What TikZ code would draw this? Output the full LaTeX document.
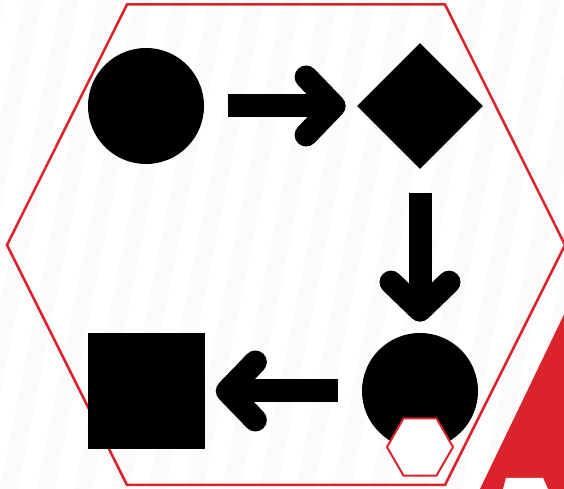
\documentclass[tikz,border=0pt]{standalone}
\usepackage{tikz}
\usetikzlibrary{arrows.meta,shapes.geometric}
\definecolor{hexred}{RGB}{218,35,42}
\definecolor{stripegray}{RGB}{251,251,251}

\begin{document}
\begin{tikzpicture}[>={Straight Barb[round,length=5.6mm,width=11.6mm]},
	solid/.style={fill=black, inner sep=0pt},
	blob/.style={solid, circle, minimum size=2.32cm},
	flow/.style={->, line width=4.6mm, shorten <=4.7mm, shorten >=2.2mm},
	hexframe/.style={draw=hexred, regular polygon, regular polygon sides=6, inner sep=0pt, outer sep=0pt}]
	\useasboundingbox (0,0) rectangle (11.28,9.78);
	\clip (0,0) rectangle (11.28,9.78);
	\fill[white] (0,0) rectangle (11.28,9.78);
	\foreach \k in {-4,...,16}
		\fill[stripegray] ({\k*0.74},0) -- ++(0.36,0) -- ++(1.96,9.78) -- ++(-0.36,0) -- cycle;
	\draw[hexred, line width=0.05cm] (0.14,4.88) -- (2.54,9.69) -- (8.90,9.69) -- (11.30,4.88) -- (8.90,0.08) -- (2.54,0.08) -- cycle;
	\fill[hexred] (9.60,0) -- (11.40,3.74) -- (11.40,0) -- cycle;
	\fill[white] (10.06,0) -- (10.12,0.22) -- (10.86,0.22) -- (10.96,0) -- cycle;
	\node[blob] (start) at (2.92,7.66) {};
	\node[solid, diamond, minimum width=2.52cm, minimum height=2.52cm] (decide) at (8.40,7.66) {};
	\node[blob] (merge) at (8.40,1.96) {};
	\node[solid, rectangle, minimum size=2.32cm] (stop) at (2.93,1.96) {};
	\draw[flow] (start) -- (decide);
	\draw[flow] (decide) -- (merge);
	\draw[flow] (merge) -- (stop);
	\node[hexframe, fill=white, line width=0.04cm, minimum size=1.32cm] (mark) at (8.40,0.84) {};
\end{tikzpicture}
\end{document}
